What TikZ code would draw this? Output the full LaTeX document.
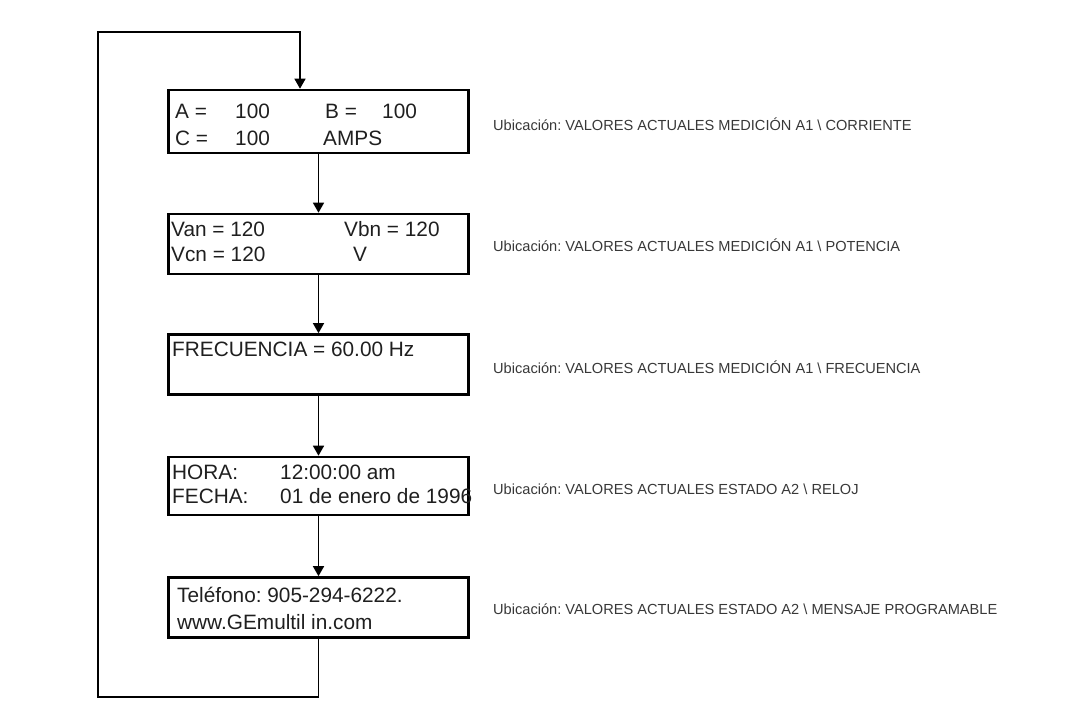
\documentclass[tikz,border=0pt]{standalone}
\usepackage{fontspec}
\setmainfont{Liberation Sans}
\usepackage{tikz}
\usetikzlibrary{arrows.meta}
\frenchspacing
\tikzset{
	box/.style={draw, line width=2.6pt, minimum width=300pt, minimum height=60pt, inner sep=0pt},
	txt/.style={inner sep=0pt, anchor=base west, font=\fontsize{20.8}{24}\selectfont, text=black!88},
	loc/.style={inner sep=0pt, anchor=base west, font=\fontsize{14.6}{17}\selectfont, text=black!78},
	arr/.style={line width=1.5pt, -{Triangle[width=11pt,length=10pt]}}
}

\begin{document}
\begin{tikzpicture}[x=1pt,y=-1pt]
		%%%%% START %%%%%
		\useasboundingbox (0,0) rectangle (1075,708);
		
		\node[box, minimum height=63pt] (corr) at (318.5,121.5) {};
		\node[box] (volt) at (318.5,244) {};
		\node[box] (freq) at (318.5,364.5) {};
		\node[box, minimum height=58pt] (reloj) at (318.5,486) {};
		\node[box] (msg) at (318.5,607.5) {};
		
		% textos de las pantallas
		\node[txt] (ca) at (175,119) {A =};
		\node[txt] (cav) at (235,119) {100};
		\node[txt] (cb) at (325,119) {B =};
		\node[txt] (cbv) at (382,119) {100};
		\node[txt] (cc) at (175,146) {C =};
		\node[txt] (ccv) at (235,146) {100};
		\node[txt] (cu) at (323,146) {AMPS};
		
		\node[txt] (van) at (171,237) {Van = 120};
		\node[txt] (vbn) at (344,237) {Vbn = 120};
		\node[txt] (vcn) at (171,262) {Vcn = 120};
		\node[txt] (vu) at (353,262) {V};
		
		\node[txt] (fr) at (172,356) {FRECUENCIA = 60.00 Hz};
		
		\node[txt] (hora) at (172,479) {HORA:};
		\node[txt] (horav) at (280,479) {12:00:00 am};
		\node[txt] (fecha) at (172,503) {FECHA:};
		\node[txt] (fechav) at (280,503) {01 de enero de 1996};
		
		\node[txt] (tel) at (177,602) {Teléfono: 905-294-6222.};
		\node[txt] (web) at (177,629) {www.GEmultil in.com};
		
		% ubicaciones
		\node[loc] (loc1) at (493,131) {Ubicación: VALORES ACTUALES MEDICIÓN A1 \textbackslash\ CORRIENTE};
		\node[loc] (loc2) at (493,252) {Ubicación: VALORES ACTUALES MEDICIÓN A1 \textbackslash\ POTENCIA};
		\node[loc] (loc3) at (493,373) {Ubicación: VALORES ACTUALES MEDICIÓN A1 \textbackslash\ FRECUENCIA};
		\node[loc] (loc4) at (493,494) {Ubicación: VALORES ACTUALES ESTADO A2 \textbackslash\ RELOJ};
		\node[loc] (loc5) at (493,614) {Ubicación: VALORES ACTUALES ESTADO A2 \textbackslash\ MENSAJE PROGRAMABLE};
		
		% flechas
		\draw[arr] (corr.south) -- (volt.north);
		\draw[arr] (volt.south) -- (freq.north);
		\draw[arr] (freq.south) -- (reloj.north);
		\draw[arr] (reloj.south) -- (msg.north);
		
		\coordinate (lb) at (98,697);
		\coordinate (lt) at (98,32);
		\coordinate (in1) at ([xshift=-18.5pt]corr.north);
		\draw[arr] (msg.south) |- (lb) -- (lt) -| (in1);
		
		%%%%% END %%%%%
\end{tikzpicture}
\end{document}
